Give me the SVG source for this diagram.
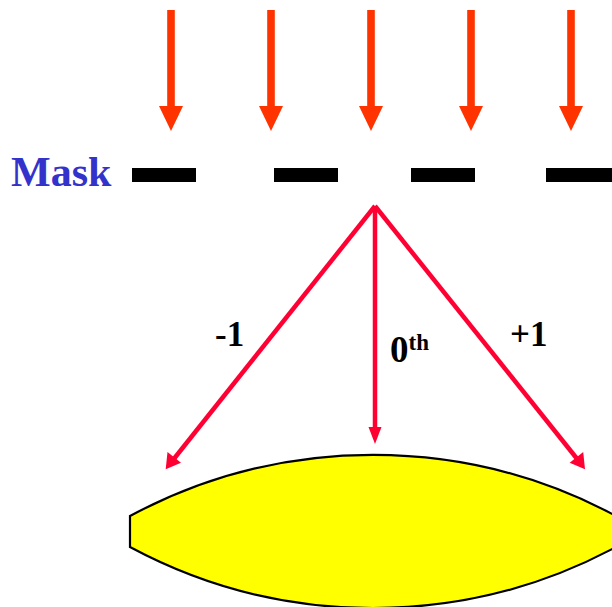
<svg xmlns="http://www.w3.org/2000/svg" width="612" height="607" viewBox="0 0 612 607">
<style>
.inc{fill:#FF3300}
.bar{fill:#000}
.ray{stroke:#FF0033;stroke-width:4.5;fill:none}
.head{fill:#FF0033}
.lbl{font-family:"Liberation Serif","Times New Roman",serif;font-weight:bold;fill:#000}
</style>
<defs>
<g id="incArrow">
<rect x="-3.8" y="10" width="7.6" height="97" class="inc"/>
<polygon points="-12,106 12,106 0,131" class="inc"/>
</g>
</defs>
<rect width="612" height="607" fill="#fff"/>
<g id="incident">
<use href="#incArrow" x="171"/>
<use href="#incArrow" x="271"/>
<use href="#incArrow" x="371"/>
<use href="#incArrow" x="471"/>
<use href="#incArrow" x="571"/>
</g>
<g id="mask">
<text x="11" y="186" font-family="Liberation Serif,Times New Roman,serif" font-weight="bold" font-size="42" fill="#3333CC">Mask</text>
<rect class="bar" x="132" y="168" width="64" height="14"/>
<rect class="bar" x="274" y="168" width="64" height="14"/>
<rect class="bar" x="411" y="168" width="64" height="14"/>
<rect class="bar" x="546" y="168" width="66" height="14"/>
</g>
<g id="lens">
<path d="M130,516 A514,514 0 0 1 616,516 L616,547 A514,514 0 0 1 130,547 Z" fill="#FFFF00" stroke="#000" stroke-width="2.2"/>
</g>
<g id="connectors">
<line class="ray" x1="375" y1="206" x2="173" y2="460"/>
<polygon class="head" points="165.7,469.3 167.5,452 181,462.8"/>
<line class="ray" x1="375" y1="206" x2="375" y2="430"/>
<polygon class="head" points="368.5,427 381.5,427 375,444"/>
<line class="ray" x1="375" y1="206" x2="578" y2="460"/>
<polygon class="head" points="585,469.3 583.2,452 569.7,462.8"/>
</g>
<g id="labels">
<text class="lbl" x="215" y="346" font-size="35">-1</text>
<text class="lbl" x="390" y="362" font-size="37">0<tspan font-size="23" dy="-12">th</tspan></text>
<text class="lbl" x="510" y="346" font-size="35">+1</text>
</g>
</svg>
